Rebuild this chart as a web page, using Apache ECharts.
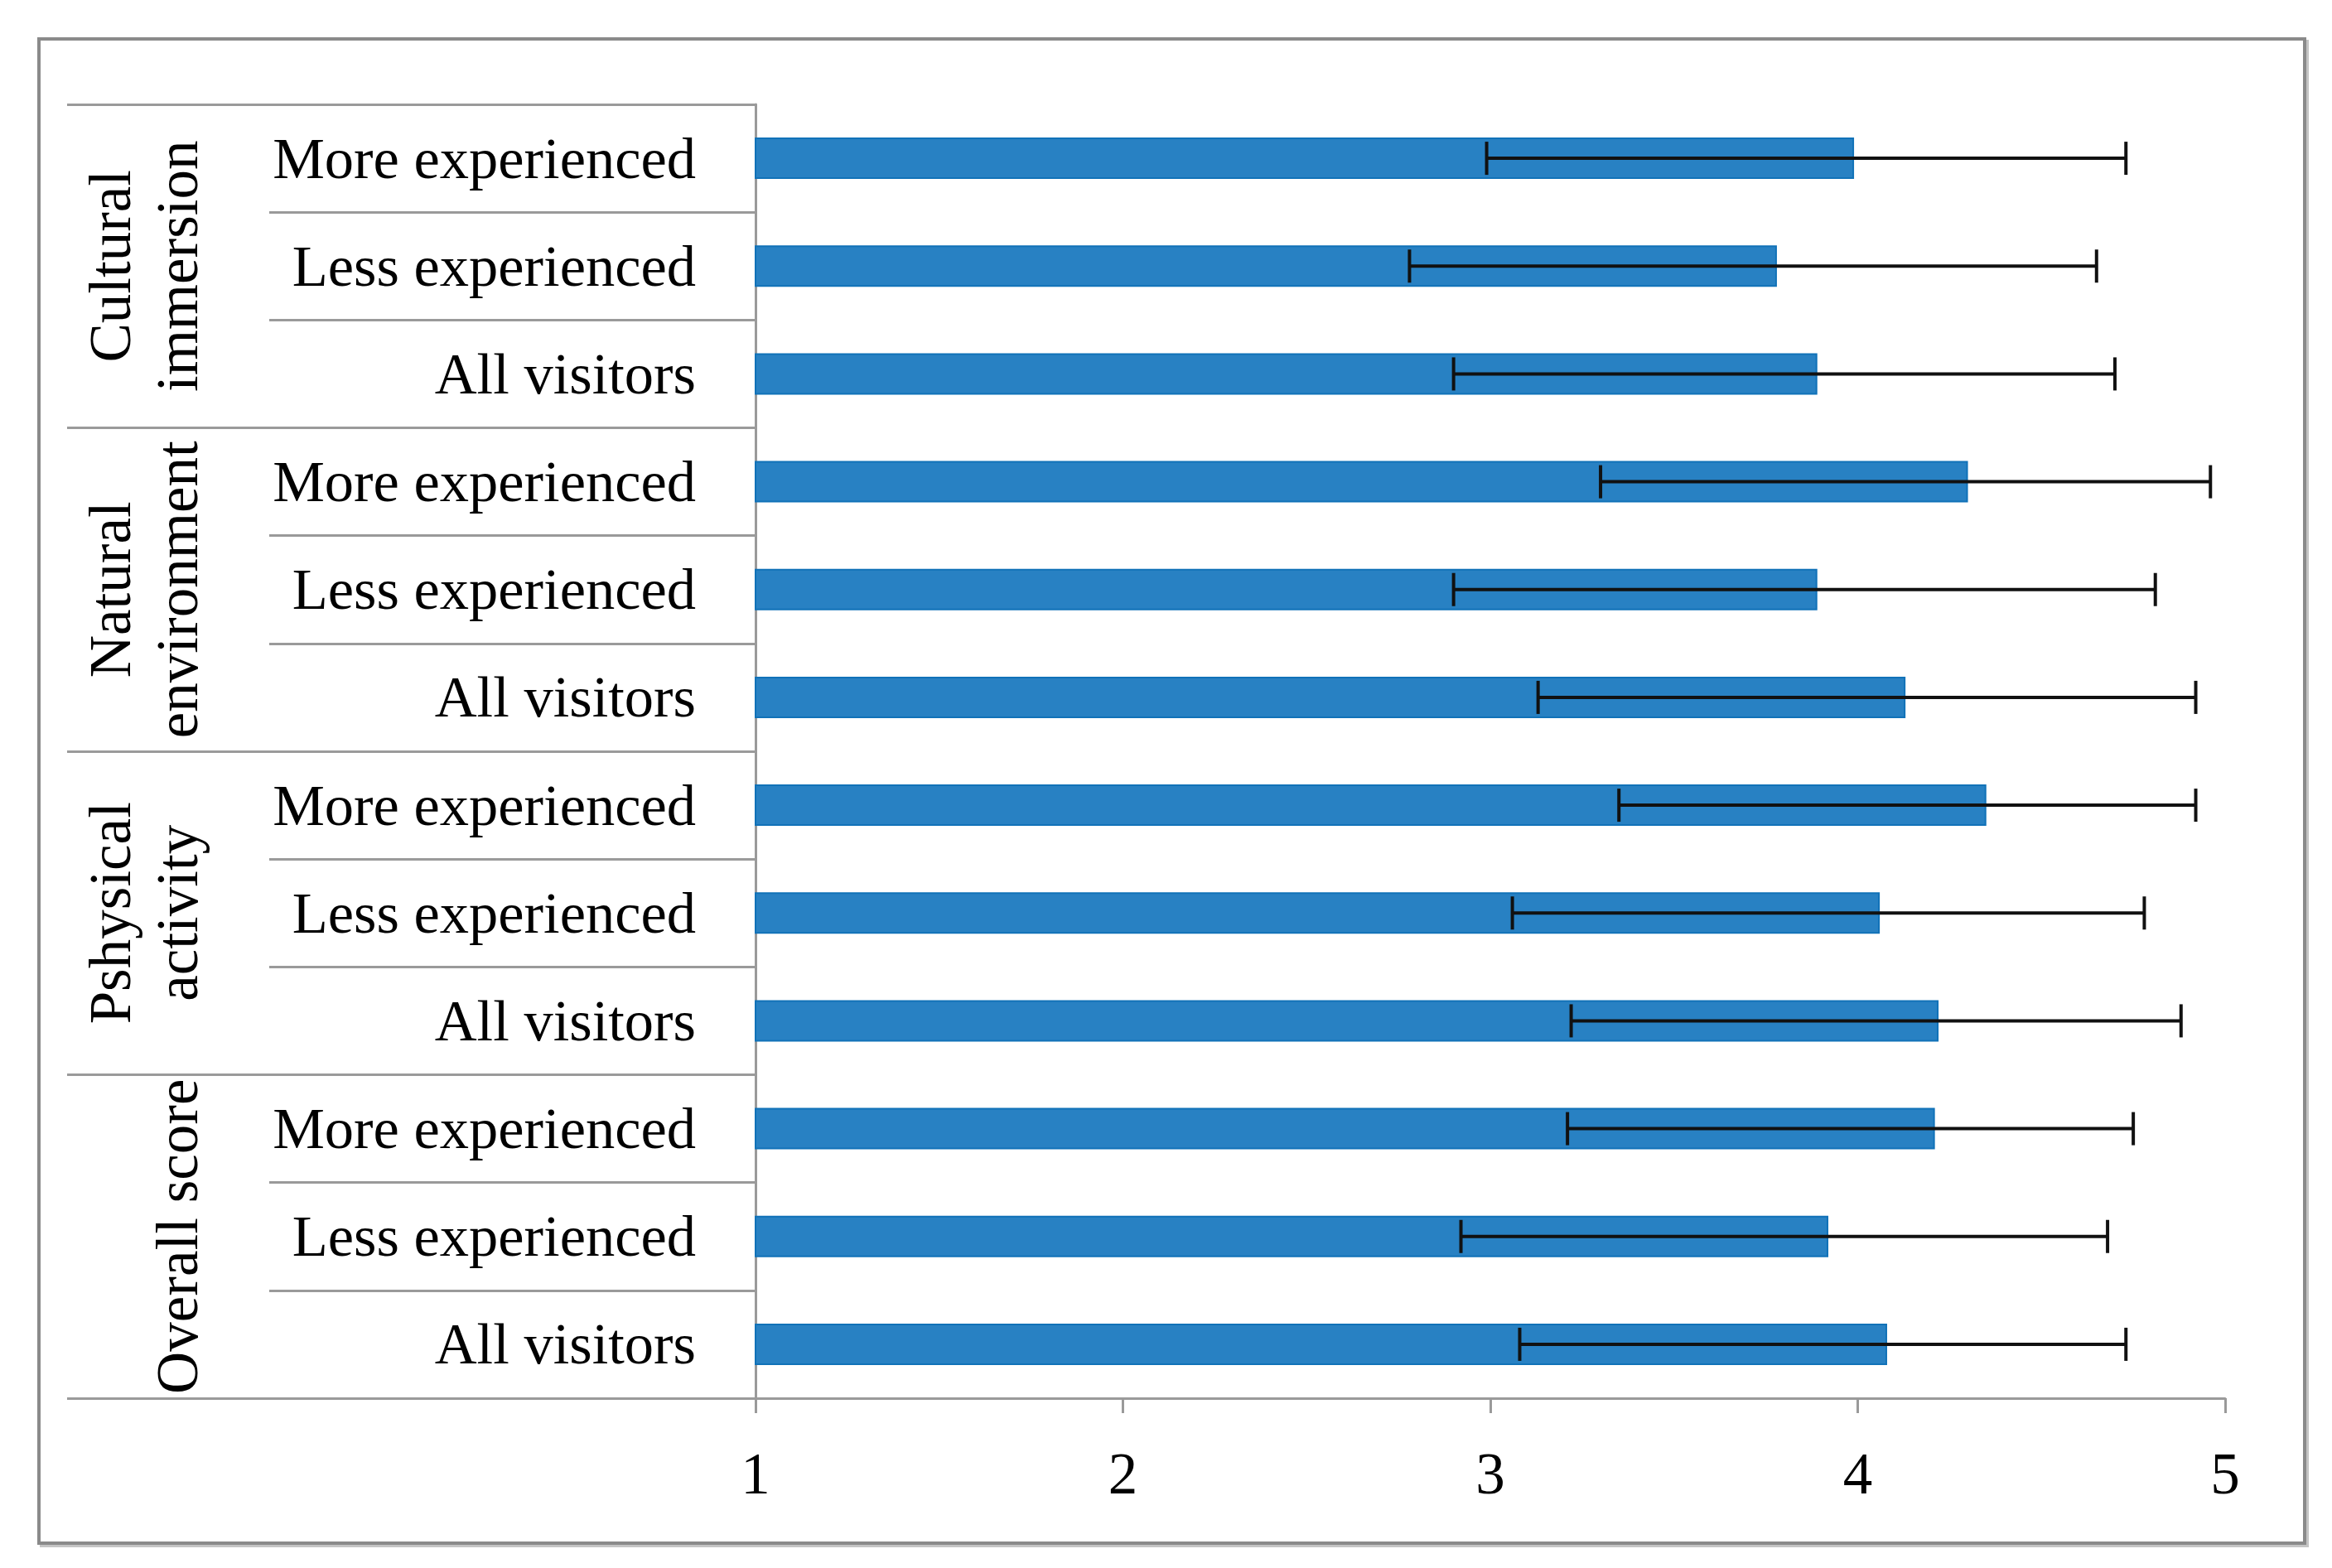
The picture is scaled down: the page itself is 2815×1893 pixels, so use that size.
<!DOCTYPE html>
<html><head><meta charset="utf-8">
<script src="https://cdn.jsdelivr.net/npm/echarts@6/dist/echarts.min.js"></script>
<style>html,body{margin:0;padding:0;background:#fff}#c{width:2815px;height:1893px}</style>
</head><body><div id="c"></div>
<script>
const groups = ['Cultural\nimmersion', 'Natural\nenvironment', 'Pshysical\nactivity', 'Overall score'];
const subLabels = [
  'More experienced', 'Less experienced', 'All visitors',
  'More experienced', 'Less experienced', 'All visitors',
  'More experienced', 'Less experienced', 'All visitors',
  'More experienced', 'Less experienced', 'All visitors'
];
const means   = [3.99, 3.78, 3.89, 4.30, 3.89, 4.13, 4.35, 4.06, 4.22, 4.21, 3.92, 4.08];
const errLow  = [2.99, 2.78, 2.90, 3.30, 2.90, 3.13, 3.35, 3.06, 3.22, 3.21, 2.92, 3.08];
const errHigh = [4.73, 4.65, 4.70, 4.96, 4.81, 4.92, 4.92, 4.78, 4.88, 4.75, 4.68, 4.73];
const xMin = 1, xMax = 5, xStep = 1;

const FONT = '"Liberation Serif", "Times New Roman", serif';
const GRAY = '#9a9a9a';

const chart = echarts.init(document.getElementById('c'), null, {renderer: 'canvas'});
const errData = means.map((m, i) => [errLow[i], errHigh[i], i]);

chart.setOption({
  backgroundColor: '#fff',
  animation: false,
  grid: {left: 912, right: 129, top: 126, bottom: 205, containLabel: false, outerBoundsMode: 'none'},
  graphic: [
    {type: 'rect', z: -10, shape: {x: 50, y: 50, width: 2735, height: 1816},
     style: {fill: null, stroke: '#c4c4c4', lineWidth: 4}},
    {type: 'rect', z: -9, shape: {x: 47, y: 47, width: 2735, height: 1816},
     style: {fill: '#fff', stroke: '#8a8a8a', lineWidth: 4}}
  ],
  xAxis: {
    type: 'value', min: xMin, max: xMax, interval: xStep,
    splitLine: {show: false},
    axisLine: {show: true, lineStyle: {color: GRAY, width: 3}},
    axisTick: {show: true, length: 18, lineStyle: {color: GRAY, width: 3}},
    axisLabel: {fontFamily: FONT, fontSize: 71, color: '#000', margin: 61}
  },
  yAxis: [
    {
      type: 'category', data: subLabels, inverse: true, position: 'left',
      axisLine: {show: true, lineStyle: {color: GRAY, width: 3}},
      axisTick: {show: true, length: 587, lineStyle: {color: GRAY, width: 3}},
      axisLabel: {
        fontFamily: FONT, fontSize: 70.5, color: '#000', margin: 72, interval: 0,
        formatter: v => '{t|' + v + '}',
        rich: {t: {fontFamily: FONT, fontSize: 70.5, color: '#000', padding: [10, 0, 0, 0]}}
      }
    },
    {
      type: 'category', data: groups, inverse: true, position: 'left', offset: 0,
      axisLine: {show: false},
      axisTick: {show: true, length: 831, lineStyle: {color: GRAY, width: 3}},
      axisLabel: {fontFamily: FONT, fontSize: 71, color: '#000', margin: 652, rotate: 90,
                  interval: 0, lineHeight: 81}
    }
  ],
  series: [
    {
      type: 'bar', yAxisIndex: 0, data: means, barWidth: 50, clip: true,
      itemStyle: {color: '#2881C3', borderColor: '#1172B8', borderWidth: 2}
    },
    {
      type: 'custom', yAxisIndex: 0, data: errData, z: 10,
      encode: {x: [0, 1], y: 2},
      renderItem: function (params, api) {
        const lo = api.coord([api.value(0), api.value(2)]);
        const hi = api.coord([api.value(1), api.value(2)]);
        const h = 20;
        const st = {stroke: '#111', lineWidth: 4};
        return {type: 'group', children: [
          {type: 'line', shape: {x1: lo[0], y1: lo[1], x2: hi[0], y2: hi[1]}, style: st},
          {type: 'line', shape: {x1: lo[0], y1: lo[1] - h, x2: lo[0], y2: lo[1] + h}, style: st},
          {type: 'line', shape: {x1: hi[0], y1: hi[1] - h, x2: hi[0], y2: hi[1] + h}, style: st}
        ]};
      }
    }
  ]
});
</script></body></html>
